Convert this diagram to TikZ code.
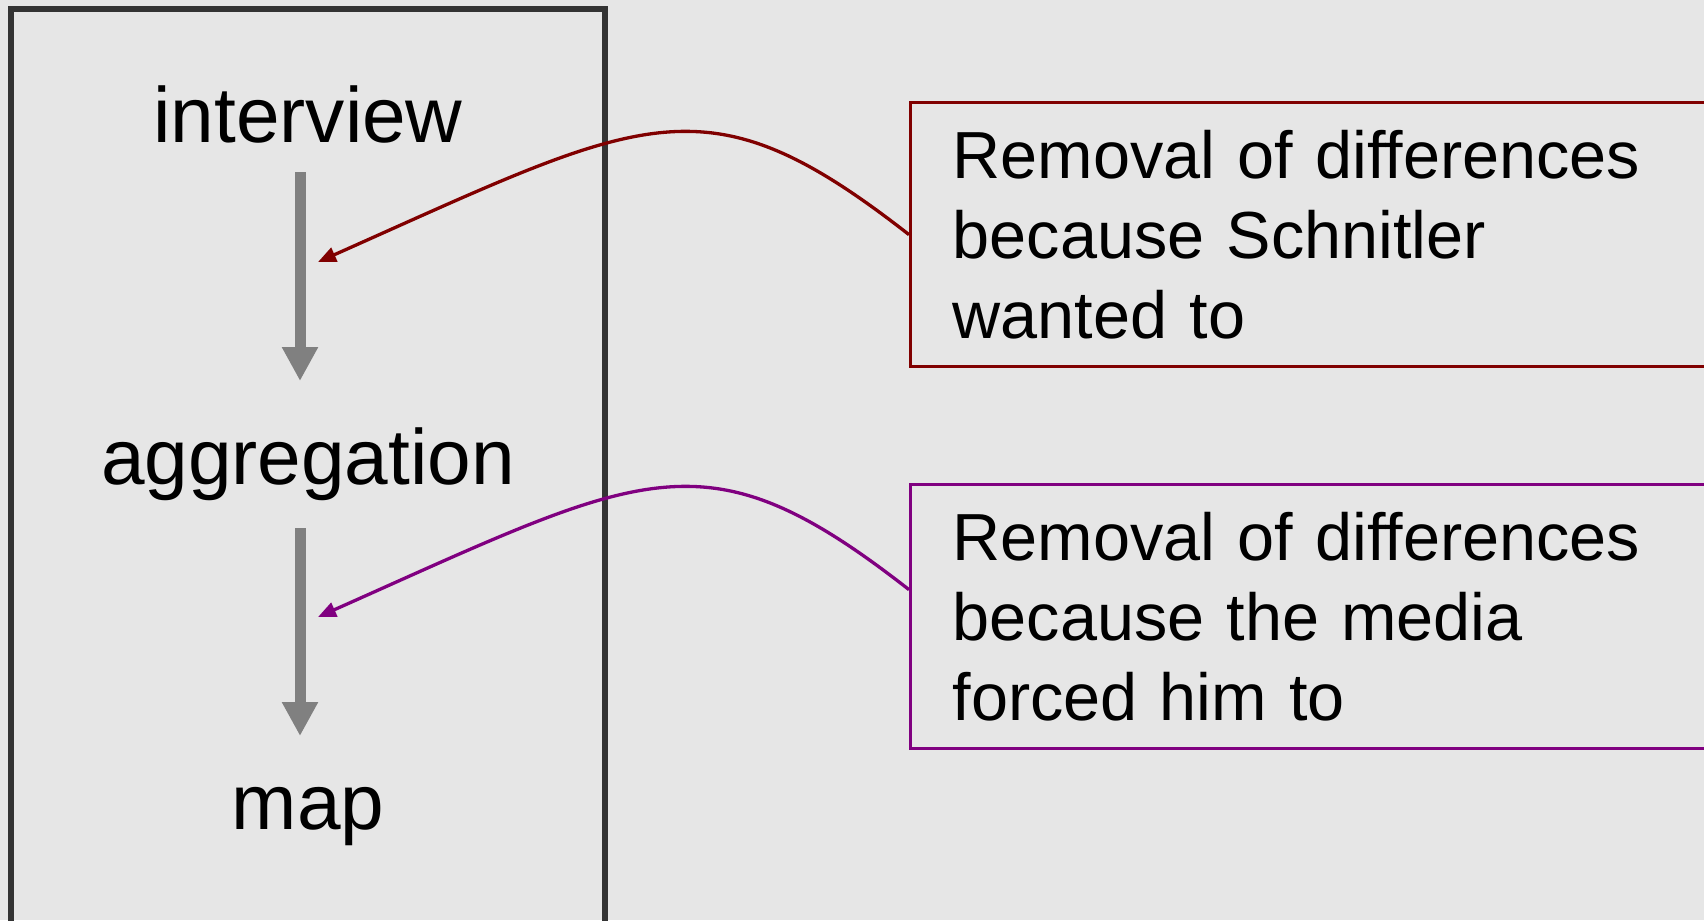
\documentclass[tikz,border=0pt]{standalone}
\usepackage{fontspec}
\setmainfont{Liberation Sans}
\usetikzlibrary{arrows.meta, positioning}
\usepackage{xcolor}
\definecolor{slidegray}{HTML}{E6E6E6}
\definecolor{framedark}{HTML}{333333}
\definecolor{stepgray}{HTML}{808080}
\definecolor{reasonred}{HTML}{800000}
\definecolor{reasonpurple}{HTML}{800080}

\begin{document}
\begin{tikzpicture}[
  stage/.style={inner sep=0pt, anchor=base, font=\fontsize{22.3}{26}\selectfont},
  flow/.style={stepgray, line width=0.11cm, -{Triangle[length=0.34cm, width=0.34cm]}},
  reason/.style={draw=#1, line width=0.033cm, anchor=north west,
    minimum width=8.2cm, minimum height=2.64cm, inner xsep=0.42cm, inner ysep=0pt,
    text width=7.36cm, align=left, font=\fontsize{18.95}{22.8}\selectfont},
  cause/.style={#1, line width=0.033cm, -{Triangle[length=0.18cm, width=0.15cm]}}
]
  \clip (0,0) rectangle (17.04,9.2);
  \fill[slidegray] (0,0) rectangle (17.04,9.2);

  % Process frame
  \draw[framedark, line width=0.055cm] (0.11,-0.5) rectangle (6.05,9.11);

  % Steps
  \node[stage] (interview) at (3.08,7.77) {interview};
  \node[stage] (aggregation) at (3.08,4.36) {aggregation};
  \node[stage] (map) at (3.08,0.91) {map};

  \draw[flow] ([xshift=-0.08cm, yshift=-0.29cm]interview.base) -- ([xshift=-0.08cm, yshift=1.03cm]aggregation.base);
  \draw[flow] ([xshift=-0.08cm, yshift=-0.44cm]aggregation.base) -- ([xshift=-0.08cm, yshift=0.93cm]map.base);

  % Reasons
  \node[reason=reasonred] (schnitler) at (9.09,8.19) {Removal of differences\\because Schnitler\\wanted to};
  \node[reason=reasonpurple] (media) at (9.09,4.37) {Removal of differences\\because the media\\forced him to};

  \coordinate (slipA) at (3.18,6.58);
  \coordinate (slipB) at (3.18,3.03);

  \draw[cause=reasonred] (schnitler.west) to[out=142, in=24, out distance=2.6cm, in distance=3.6cm] (slipA);
  \draw[cause=reasonpurple] ([yshift=0.27cm]media.west) to[out=142, in=24, out distance=2.6cm, in distance=3.6cm] (slipB);
\end{tikzpicture}
\end{document}
